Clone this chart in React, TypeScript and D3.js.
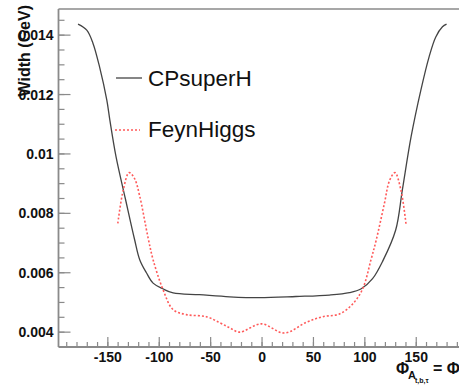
import React from "react";
import * as d3 from "d3";

// CPsuperH width vs phase (degrees)
const cpX = [-179, -170.5, -164.5, -158, -151, -148, -142, -133, -124, -119, -112.5, -106, -96.5, -86.5, -61, -31.5, -2.5, 33, 65.5, 85, 96.5, 107.5, 117.5, 130, 136.5, 145, 154.5, 162.5, 169, 175.5, 179.5];
const cpY = [0.01437, 0.01417, 0.01373, 0.01292, 0.01181, 0.01113, 0.0099, 0.0085, 0.00712, 0.00644, 0.006, 0.00565, 0.00546, 0.00532, 0.00526, 0.00519, 0.00516, 0.0052, 0.00525, 0.00533, 0.00546, 0.0058, 0.0064, 0.00744, 0.00879, 0.01058, 0.01215, 0.01327, 0.01394, 0.01428, 0.01437];

// FeynHiggs width vs phase
const fhX = [-140.3, -135, -129.3, -124, -119, -111, -106, -96.3, -86.6, -73.6, -54.2, -41.3, -31.6, -21.8, -0.8, 21.8, 42.9, 59, 75.2, 88.2, 97.9, 106, 111, 119, 124, 129.3, 135, 140];
const fhY = [0.00766, 0.00879, 0.00937, 0.00917, 0.00858, 0.0072, 0.00644, 0.00543, 0.00476, 0.00459, 0.00452, 0.00432, 0.00415, 0.004, 0.00428, 0.00397, 0.00433, 0.00452, 0.00461, 0.00495, 0.00546, 0.00644, 0.00709, 0.00833, 0.0091, 0.00937, 0.0088, 0.00765];

const xMajor = [-150, -100, -50, 0, 50, 100, 150];
const xMinor = d3.range(-190, 200, 10);
const yMajor = [0.004, 0.006, 0.008, 0.01, 0.012, 0.014];
const yMajorLabels = ["0.004", "0.006", "0.008", "0.01", "0.012", "0.014"];
const yMinor = d3.range(0.004, 0.0149, 0.0005);

const seriesNames = ["CPsuperH", "FeynHiggs"];

const App: React.FC = () => {
    const W = 459;
    const H = 385;
    const left = 58.5;
    const top = 9;
    const bottom = 347;

    const x = d3.scaleLinear().domain([-198, 198]).range([left, left + 396 * 1.028]);
    const y = d3.scaleLinear().domain([0.0035, 0.01488]).range([bottom, top]);

    const line = d3
        .line<[number, number]>()
        .x((d) => x(d[0]))
        .y((d) => y(d[1]))
        .curve(d3.curveCatmullRom.alpha(0.5));

    const cpPts = cpX.map((v, i) => [v, cpY[i]] as [number, number]);
    const fhPts = fhX.map((v, i) => [v, fhY[i]] as [number, number]);

    const axisColor = "#8a8a8a";
    const font = "'Liberation Sans', Arial, Helvetica, sans-serif";

    return (
        <svg width={W} height={H} style={{ position: "absolute", left: 0, top: 0, background: "#fff" }} fontFamily={font}>
            {/* frame */}
            <line x1={left} x2={W} y1={top} y2={top} stroke={axisColor} strokeWidth={1.6} />
            <line x1={left} x2={left} y1={top} y2={bottom} stroke={axisColor} strokeWidth={1.8} />
            <line x1={left} x2={W} y1={bottom} y2={bottom} stroke={axisColor} strokeWidth={1.8} />

            {/* x ticks */}
            {xMinor.map((v) => (
                <line key={"xm" + v} x1={x(v)} x2={x(v)} y1={bottom} y2={bottom - 5} stroke={axisColor} strokeWidth={1.2} />
            ))}
            {xMajor.map((v) => (
                <g key={"xM" + v}>
                    <line x1={x(v)} x2={x(v)} y1={bottom} y2={bottom - 10} stroke={axisColor} strokeWidth={1.2} />
                    <text x={x(v)} y={362} textAnchor="middle" fontSize={14} fontWeight="bold" fill="#111">
                        {v}
                    </text>
                </g>
            ))}

            {/* y ticks */}
            {yMinor.map((v, i) => (
                <line key={"ym" + i} x1={left} x2={left + 6} y1={y(v)} y2={y(v)} stroke={axisColor} strokeWidth={1.2} />
            ))}
            {yMajor.map((v, i) => (
                <g key={"yM" + i}>
                    <line x1={left} x2={left + 12} y1={y(v)} y2={y(v)} stroke={axisColor} strokeWidth={1.2} />
                    <text x={53.5} y={y(v) + 5} textAnchor="end" fontSize={14} fontWeight="bold" fill="#111">
                        {yMajorLabels[i]}
                    </text>
                </g>
            ))}

            {/* y title */}
            <text transform="translate(30,5) rotate(-90)" textAnchor="end" fontSize={16} fontWeight="bold" fill="#111">
                Width (GeV)
            </text>

            {/* x title */}
            <text x={396} y={374} fontSize={16} fontWeight="bold" fill="#111">
                Φ
            </text>
            <text x={408} y={379} fontSize={11} fontWeight="bold" fill="#111">
                A
            </text>
            <text x={415} y={383} fontSize={7} fontWeight="bold" fill="#111">
                t,b,τ
            </text>
            <text x={433} y={374} fontSize={16} fontWeight="bold" fill="#111">
                = Φ
            </text>

            {/* curves */}
            <path d={line(cpPts) ?? ""} fill="none" stroke="#444" strokeWidth={1.3} />
            <path d={line(fhPts) ?? ""} fill="none" stroke="#ff5a5a" strokeWidth={1.6} strokeDasharray="2,2" />

            {/* legend */}
            <line x1={116} x2={142} y1={78} y2={78} stroke="#444" strokeWidth={1.3} />
            <text x={148} y={86} fontSize={22.5} fill="#111">
                {seriesNames[0]}
            </text>
            <line x1={115} x2={140} y1={130} y2={130} stroke="#ff5a5a" strokeWidth={1.6} strokeDasharray="2,2" />
            <text x={148} y={137} fontSize={22.5} fill="#111">
                {seriesNames[1]}
            </text>
        </svg>
    );
};

export default App;
